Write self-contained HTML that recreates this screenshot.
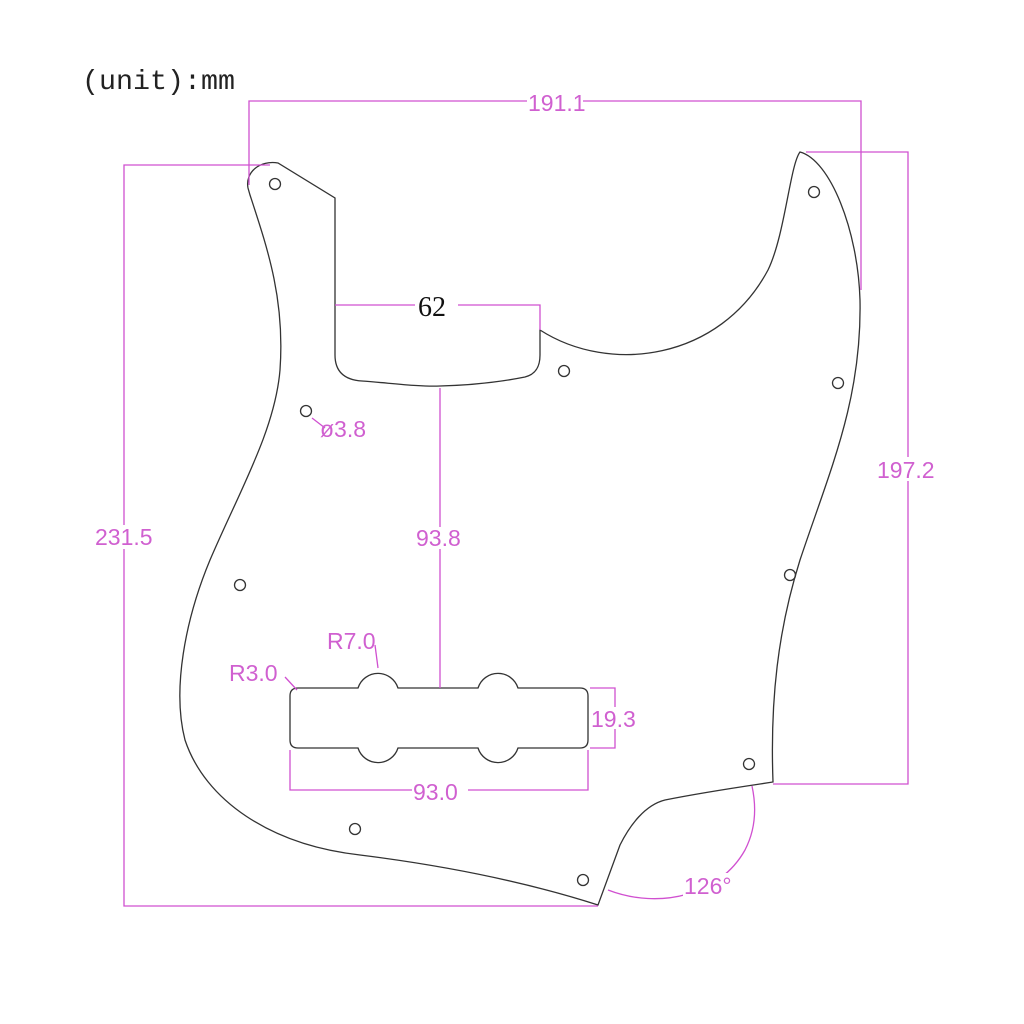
<!DOCTYPE html>
<html><head><meta charset="utf-8"><style>
html,body{margin:0;padding:0;background:#fff;width:1024px;height:1024px;overflow:hidden}
svg{display:block}
.m{stroke:#d050d0;stroke-width:1.3;fill:none}
.k{stroke:#333;stroke-width:1.3;fill:none}
.t{fill:#d060d0;font-family:"Liberation Sans",sans-serif;font-size:23px;font-weight:300}
</style></head><body>
<svg width="1024" height="1024" viewBox="0 0 1024 1024">
<text x="82" y="89" font-family="Liberation Mono,monospace" font-size="28" fill="#222" textLength="153" lengthAdjust="spacingAndGlyphs">(unit):mm</text>
<path class="k" d="M248,188 C245,172 260,160 278,163 L335,198 L335,355 C335,372 345,380 362,381 C390,383 420,387 440,386 C480,385 510,380 525,377 C537,374 540,365 540,355 L540,330 C610,375 720,360 768,270 C785,235 790,165 800,152 C830,160 858,230 860,300 C862,400 830,470 800,560 C778,630 770,700 773,782 L760,784 C720,790 690,795 665,800 C645,805 630,825 620,845 L598,905 C520,880 440,865 360,855 C270,845 205,800 185,740 C172,690 185,620 210,560 C240,490 275,430 280,370 C285,300 268,250 250,195 Z"/>
<path class="k" d="M298,688 L358,688 A21,21 0 0 1 398,688 L478,688 A21,21 0 0 1 518,688 L580,688 Q588,688 588,696 L588,740 Q588,748 580,748 L518,748 A21,21 0 0 1 478,748 L398,748 A21,21 0 0 1 358,748 L298,748 Q290,748 290,740 L290,696 Q290,688 298,688 Z"/>
<g class="k">
<circle cx="275" cy="184" r="5.5"/><circle cx="814" cy="192" r="5.5"/><circle cx="306" cy="411" r="5.5"/>
<circle cx="564" cy="371" r="5.5"/><circle cx="838" cy="383" r="5.5"/><circle cx="240" cy="585" r="5.5"/>
<circle cx="790" cy="575" r="5.5"/><circle cx="749" cy="764" r="5.5"/><circle cx="355" cy="829" r="5.5"/>
<circle cx="583" cy="880" r="5.5"/>
</g>
<path class="m" d="M249,185 L249,101 L861,101 L861,290"/>
<path class="m" d="M806,152 L908,152 L908,784 L773,784"/>
<path class="m" d="M270,165 L124,165 L124,906 L598,906"/>
<path class="m" d="M335,305 L415,305 M458,305 L540,305 L540,330"/>
<path class="m" d="M440,388 L440,688"/>
<path class="m" d="M290,750 L290,790 L588,790 L588,750"/>
<path class="m" d="M590,688 L615,688 L615,748 L590,748"/>
<path class="m" d="M312,418 L325,428"/>
<path class="m" d="M378,668 L375,645"/>
<path class="m" d="M297,690 L285,677"/>
<path class="m" d="M608,890 C660,910 720,895 745,850 C758,825 755,800 752,786"/>
<rect x="527" y="92" width="56" height="20" fill="#fff"/>
<text class="t" x="528" y="111">191.1</text>
<rect x="875" y="457" width="70" height="24" fill="#fff"/>
<text class="t" x="877" y="478">197.2</text>
<rect x="92" y="525" width="68" height="24" fill="#fff"/>
<text class="t" x="95" y="545">231.5</text>
<text x="418" y="316" font-family="Liberation Serif,serif" font-size="28" fill="#111">62</text>
<rect x="415" y="527" width="54" height="22" fill="#fff"/>
<text class="t" x="416" y="546">93.8</text>
<rect x="412" y="780" width="56" height="22" fill="#fff"/>
<text class="t" x="413" y="800">93.0</text>
<rect x="590" y="707" width="52" height="22" fill="#fff"/>
<text class="t" x="591" y="727">19.3</text>
<text class="t" x="320" y="437">ø3.8</text>
<text class="t" x="327" y="649">R7.0</text>
<text class="t" x="229" y="681">R3.0</text>
<rect x="683" y="873" width="56" height="24" fill="#fff"/>
<text class="t" x="684" y="894">126°</text>
</svg>
</body></html>
